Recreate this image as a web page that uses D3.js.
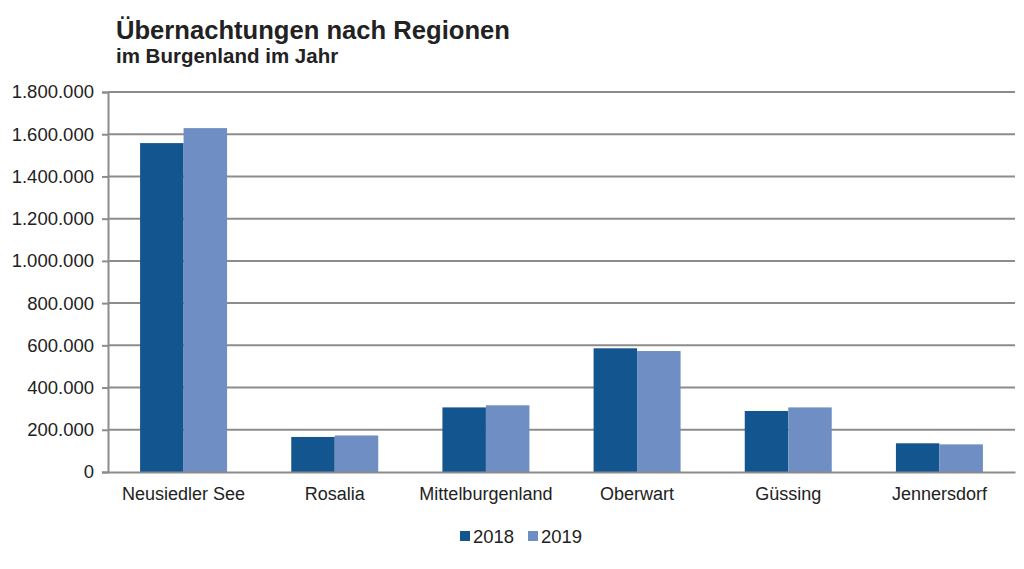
<!DOCTYPE html>
<html><head><meta charset="utf-8">
<script src="https://cdn.jsdelivr.net/npm/d3@7"></script>
<style>body{margin:0;background:#fff}svg{display:block}text{font-family:"Liberation Sans",Arial,sans-serif;fill:#222}</style>
</head><body>
<svg id="c" width="1024" height="569"></svg>
<script>
const categories = ["Neusiedler See","Rosalia","Mittelburgenland","Oberwart","Güssing","Jennersdorf"];
const seriesNames = ["2018","2019"];
const values2018 = [1558000,166000,306000,586000,289000,136000];
const values2019 = [1629000,173000,316000,573000,306000,131000];
const yTicks = [0,200000,400000,600000,800000,1000000,1200000,1400000,1600000,1800000];
const colors = ["#13568f","#6f8fc4"];

const svg = d3.select("#c");
const L=108, R=1015, T=92, B=472;
const x = d3.scaleBand().domain(categories).range([L,R]).padding(0);
const y = d3.scaleLinear().domain([0,1800000]).range([B,T]);
const fmt = v => d3.format(",")(v).replace(/,/g,".");

// grid
svg.append("g").selectAll("line").data(yTicks.slice(1)).join("line")
  .attr("x1",L).attr("x2",R).attr("y1",d=>y(d)).attr("y2",d=>y(d))
  .attr("stroke","#8c8c8c").attr("stroke-width",2);

// y axis
const ya = svg.append("g").attr("transform",`translate(${L},0)`)
  .call(d3.axisLeft(y).tickValues(yTicks).tickFormat(fmt).tickSize(6).tickPadding(8));
ya.select(".domain").attr("stroke","#8c8c8c").attr("stroke-width",2);
ya.selectAll(".tick line").attr("stroke","#8c8c8c").attr("stroke-width",2);
ya.selectAll(".tick text").attr("font-size",18.5).attr("fill","#2a2a2a").attr("font-family","Liberation Sans, Arial, sans-serif");

// bars
const bw = 43.5;
const series = [values2018, values2019];
series.forEach((vals,si)=>{
  svg.append("g").selectAll("rect").data(categories).join("rect")
    .attr("x",(d)=>x(d)+x.bandwidth()/2 - bw + si*bw)
    .attr("width",bw)
    .attr("y",(d,i)=>y(vals[i]))
    .attr("height",(d,i)=>B-y(vals[i]))
    .attr("fill",colors[si]);
});

// x axis
const xa = svg.append("g").attr("transform",`translate(0,${B})`)
  .call(d3.axisBottom(x).tickSize(0).tickPadding(15));
xa.select(".domain").attr("stroke","#8c8c8c").attr("stroke-width",2);
xa.selectAll(".tick text").attr("font-size",18).attr("fill","#2a2a2a").attr("font-family","Liberation Sans, Arial, sans-serif");

// title
svg.append("text").attr("x",116).attr("y",39).attr("font-size",25.6).attr("font-weight","bold").text("Übernachtungen nach Regionen");
svg.append("text").attr("x",116).attr("y",63).attr("font-size",20.5).attr("font-weight","bold").text("im Burgenland im Jahr");

// legend
const lg = svg.append("g");
const lx=[460,528];
seriesNames.forEach((n,i)=>{
  lg.append("rect").attr("x",lx[i]).attr("y",531).attr("width",10).attr("height",10).attr("fill",colors[i]);
  lg.append("text").attr("x",lx[i]+13).attr("y",543).attr("font-size",18.5).attr("fill","#2a2a2a").text(n);
});
</script>
</body></html>
